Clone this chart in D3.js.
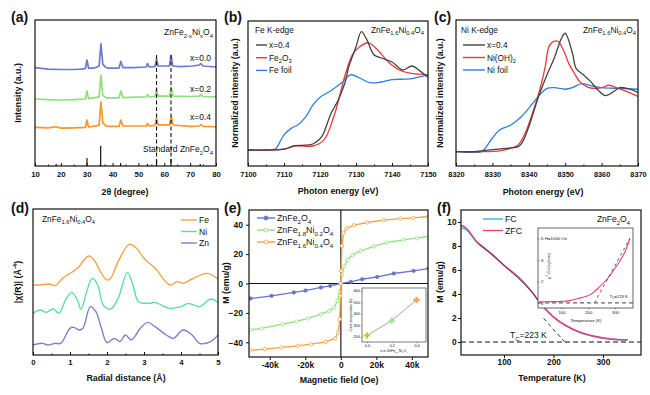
<!DOCTYPE html>
<html>
<head>
<meta charset="utf-8">
<script src="https://cdn.jsdelivr.net/npm/d3@7"></script>
<style>
  body { margin: 0; background: #fff; }
  text { font-family: "Liberation Sans", Arial, sans-serif; fill: #111; }
</style>
</head>
<body>
<svg id="fig" width="650" height="395"></svg>
<script>
// ---- (a) XRD patterns: [2theta, intensity above own baseline] ----
const xrdLabels = ['x=0.0', 'x=0.2', 'x=0.4'];
const xrdOffsets = [67.1, 45.9, 26.4];
const xrd00 = [[10,0.3],[15,-0.7],[20,-1],[25,-1],[28,-0.7],[29.5,-0.3],[30.1,5.5],[30.7,0],[33,0],[34.8,1.4],[35.5,16.8],[36.2,2.7],[37.2,0.7],[38,0],[42.5,0],[43.2,4.5],[44,0.3],[48,0.3],[53,0.7],[53.5,3.1],[54.2,0.7],[56.4,1],[57.0,6.2],[57.6,1.4],[62.0,1.4],[62.6,8.6],[63.3,1.4],[66,1],[71,1.4],[73.5,2.1],[74.1,3.1],[75,1.4],[80,0.7]];
const xrd02 = [[10,0],[15,-0.5],[20,-0.7],[25,-0.5],[29.5,0],[30.1,5.5],[30.7,0.3],[34.8,1.4],[35.5,16.4],[36.2,2.7],[37.5,0.7],[42.5,0.7],[43.2,5.5],[44,1],[53,1.4],[53.5,3.1],[54.2,1.4],[56.4,1.7],[57.0,6.8],[57.6,2],[62.0,2],[62.7,8.2],[63.4,2],[70,1.7],[73.5,2],[74.1,3.1],[75,1.7],[80,1.4]];
const xrd04 = [[10,0],[15,-0.3],[18.2,0.5],[20,-0.5],[25,-0.3],[29.5,0],[30.1,5.1],[30.7,0.3],[34.8,1.4],[35.5,17.5],[36.2,3.4],[37.2,1.4],[38,0.7],[42.5,0.7],[43.2,5.1],[44,1],[53,1],[53.5,2.7],[54.2,1],[56.4,1.4],[57.0,6.5],[57.6,1.7],[62.0,1.7],[62.7,7.5],[63.4,1.7],[70,0.7],[73.5,1],[74.1,2],[75,0.7],[80,0.5]];
const stdPeaks = [[18.2,1.4],[30.1,5.5],[35.4,13.7],[37.1,1],[43.1,2],[53.5,1.4],[57.0,4.1],[62.6,4.8],[73.9,1.4]];
const xrdGuides = [57.0, 62.6];

// ---- (b) Fe K-edge XANES ----
const feX04 = [[7100,0],[7105,0],[7110,0.01],[7113,0.055],[7116,0.06],[7118,0.075],[7120,0.14],[7121,0.21],[7123,0.45],[7125,0.62],[7127,0.85],[7128,1.04],[7130,1.29],[7131.5,1.48],[7133,1.38],[7135,1.19],[7137,1.15],[7140,1.1],[7143,1.0],[7145.5,1.05],[7148,0.98],[7150,0.91]];
const feFe2O3 = [[7100,0],[7110,0.01],[7113,0.05],[7118,0.05],[7121,0.12],[7124,0.44],[7127,0.94],[7129,1.19],[7131,1.29],[7133.5,1.34],[7136,1.25],[7139,1.1],[7142,1.0],[7145,0.96],[7150,0.94]];
const feFoil = [[7100,0],[7107.5,0.01],[7108,0.03],[7110,0.19],[7112,0.27],[7114,0.32],[7116,0.41],[7118,0.56],[7120,0.66],[7123,0.74],[7126,0.84],[7128.5,0.94],[7131,0.9],[7134,0.84],[7137,0.85],[7140,0.88],[7145,0.89],[7150,0.94]];

// ---- (c) Ni K-edge XANES ----
const niX04 = [[8320,0],[8325,0],[8330,0.025],[8335,0.046],[8337,0.06],[8338,0.1],[8339,0.19],[8340,0.31],[8343,0.73],[8345,0.96],[8347,1.17],[8349,1.42],[8350,1.48],[8352,1.23],[8353,1.04],[8355,0.96],[8357,0.875],[8359,0.77],[8361,0.7],[8363,0.74],[8365,0.8],[8367,0.79],[8370,0.74]];
const niOH2 = [[8320,0],[8328,0],[8332,0.01],[8335,0.04],[8337,0.08],[8339,0.23],[8341,0.48],[8343,0.77],[8344.5,1.06],[8345.5,1.31],[8346.5,1.37],[8348,1.38],[8349.5,1.27],[8351,1.1],[8352.5,0.98],[8354,0.875],[8356,0.81],[8358,0.79],[8360,0.8],[8362,0.83],[8364,0.8],[8367,0.75],[8370,0.69]];
const niFoil = [[8320,0],[8327,0],[8328,0.04],[8330,0.17],[8332,0.27],[8335,0.33],[8338,0.44],[8341,0.6],[8343,0.71],[8345,0.79],[8347,0.8],[8350,0.78],[8352,0.8],[8354.5,0.85],[8357,0.825],[8360,0.8],[8365,0.79],[8370,0.78]];

// ---- (d) EXAFS |chi(R)| ----
const exafsFe = [[0,2.1],[0.2,2.1],[0.45,2.13],[0.6,2.08],[0.8,2.3],[1.0,2.45],[1.2,2.6],[1.5,2.97],[1.65,2.85],[1.85,2.45],[2.0,2.25],[2.1,2.3],[2.3,2.8],[2.6,3.32],[2.8,3.2],[3.0,2.9],[3.3,2.6],[3.7,2.1],[3.9,2.2],[4.05,2.15],[4.3,2.28],[4.7,2.45],[5.0,2.28]];
const exafsNi = [[0,1.25],[0.2,1.35],[0.35,1.28],[0.55,1.38],[0.7,1.25],[0.9,1.7],[1.05,1.88],[1.2,1.65],[1.3,1.37],[1.45,1.9],[1.6,2.3],[1.75,2.1],[1.9,1.5],[2.1,1.38],[2.3,1.7],[2.55,2.48],[2.7,2.1],[2.85,1.6],[3.1,1.55],[3.3,1.57],[3.7,1.4],[4.0,1.45],[4.2,1.55],[4.5,1.45],[4.8,1.68],[5.0,1.58]];
const exafsZn = [[0,0.3],[0.25,0.35],[0.4,0.3],[0.6,0.35],[0.75,0.35],[1.0,0.8],[1.1,0.83],[1.25,0.75],[1.35,0.8],[1.55,1.45],[1.7,1.3],[1.85,0.8],[2.0,0.37],[2.2,0.5],[2.35,0.4],[2.5,0.6],[2.65,0.45],[2.75,0.55],[2.9,0.8],[3.1,0.98],[3.3,0.85],[3.6,0.6],[3.8,0.5],[4.05,0.75],[4.3,0.6],[4.5,0.35],[4.8,0.4],[5.0,0.6]];

// ---- (e) M-H loops ----
const mhX0 = [[-50800,-10.2],[-39000,-8.4],[-26400,-6.1],[-19900,-4.8],[-11200,-2.7],[-6000,-1.6],[0,0],[5600,1.1],[12000,2.9],[20500,4.5],[29800,6.8],[41000,8.6],[49300,10.2]];
const mhX2 = [[-50800,-31.5],[-44700,-30.6],[-32600,-27.7],[-25000,-25.8],[-18600,-23.8],[-11200,-20.9],[-6500,-18.6],[-3700,-16.3],[-1900,-11.8],[-600,-6],[0,0],[600,6],[1900,11.6],[3700,16],[6500,19.3],[11200,22.2],[18600,25.2],[26000,27.9],[35300,29.7],[42800,30.8],[49300,32]];
const mhX4 = [[-50800,-45.4],[-42800,-44.7],[-33500,-43.5],[-24200,-42.4],[-16700,-41.3],[-8400,-39.7],[-3300,-37.4],[-1500,-33.3],[-600,-24.3],[-200,-8.4],[0,0],[200,8.6],[600,25.6],[1500,34.2],[3300,37.6],[7400,39.7],[14900,41.5],[24200,43.1],[33500,44.2],[40900,44.7],[49300,45.6]];
const curieX = [0.0, 0.2, 0.4];
const curieT = [210, 340, 520];

// ---- (f) M-T curves ----
const mtZFC = [[13,9.7],[20,9.6],[28,9.3],[45,8.35],[60,7.85],[75,7.35],[100,6.4],[132,5.3],[156,4.2],[176,3.1],[200,2.1],[224,1.4],[251,0.86],[278,0.53],[305,0.32],[330,0.22],[350,0.19]];
const mtFC = [[13,9.5],[20,9.45],[28,9.2],[45,8.3],[60,7.8],[75,7.33],[100,6.38],[132,5.28],[156,4.18],[176,3.08],[200,2.08],[224,1.38],[251,0.84],[278,0.51],[305,0.3],[330,0.2],[350,0.17]];
const mtFit = [[50,8.15],[100,6.38],[150,4.45],[180,2.95]];
const tcLine = [[180,1.98],[223,0]];
const invChi = [[14,0.1],[60,0.12],[100,0.15],[130,0.22],[162,0.41],[190,0.6],[211,0.82],[242,1.5],[273,2.3],[304,3.4],[335,4.65],[355,6.0]];
const invChiFit = [[223,0],[355,6.0]];

const svg = d3.select('#fig');
const defs = svg.append('defs');

// text with _{sub} and ^{sup} parts
function rich(sel, str, size) {
  const parts = str.split(/([_^]\{[^}]*\})/).filter(s => s);
  let shift = 0;
  parts.forEach(p => {
    let t = p, s = 0;
    if (p.startsWith('_{')) { t = p.slice(2, -1); s = size * 0.3; }
    else if (p.startsWith('^{')) { t = p.slice(2, -1); s = -size * 0.4; }
    sel.append('tspan').attr('dy', s - shift).attr('font-size', s ? size * 0.7 : size).text(t);
    shift = s;
  });
  return sel;
}

function label(g, x, y, str, size, opts = {}) {
  const t = g.append('text').attr('x', x).attr('y', y)
    .attr('font-size', size)
    .attr('font-weight', opts.bold ? 'bold' : 'normal')
    .attr('text-anchor', opts.anchor || 'start');
  if (opts.rotate) t.attr('transform', `rotate(-90,${x},${y})`);
  return rich(t, str, size);
}

function makePanel(name, o) {
  const x = d3.scaleLinear().domain(o.xd).range([o.l, o.r]);
  const y = d3.scaleLinear().domain(o.yd).range([o.b, o.t]);
  const g = svg.append('g');
  defs.append('clipPath').attr('id', 'clip-' + name)
    .append('rect').attr('x', o.l).attr('y', o.t).attr('width', o.r - o.l).attr('height', o.b - o.t);
  const plot = g.append('g').attr('clip-path', `url(#clip-${name})`);
  return { g, plot, x, y, o };
}

function axes(p, c) {
  const { g, x, y, o } = p;
  const ts = c.inward ? -3 : 3;
  const xa = d3.axisBottom(x).tickValues(c.xt).tickSize(ts).tickPadding(c.xpad)
    .tickFormat(c.xf || d3.format('d'));
  g.append('g').attr('class', 'ax').attr('transform', `translate(0,${o.b})`).call(xa);
  if (c.xminor) {
    g.append('g').attr('transform', `translate(0,${o.b})`)
      .call(d3.axisBottom(x).tickValues(c.xminor).tickSize(ts / 2).tickFormat(''));
  }
  if (c.yt) {
    g.append('g').attr('class', 'ax').attr('transform', `translate(${o.l},0)`)
      .call(d3.axisLeft(y).tickValues(c.yt).tickSize(ts).tickPadding(c.ypad).tickFormat(d3.format('d')));
  }
  g.selectAll('.domain').remove();
  g.selectAll('.tick line').attr('stroke', '#111').attr('stroke-width', 1);
  g.selectAll('.ax text').attr('font-size', c.fs).attr('font-weight', 'bold')
    .attr('font-family', '"Liberation Sans", Arial, sans-serif').attr('fill', '#111');
  g.append('rect').attr('x', o.l).attr('y', o.t).attr('width', o.r - o.l).attr('height', o.b - o.t)
    .attr('fill', 'none').attr('stroke', '#111').attr('stroke-width', 1.2);
}

function curve(p, data, color, w = 1.3, smooth = true) {
  const line = d3.line().x(d => p.x(d[0])).y(d => p.y(d[1]));
  if (smooth) line.curve(d3.curveCatmullRom.alpha(0.5));
  return p.plot.append('path').datum(data).attr('d', line)
    .attr('fill', 'none').attr('stroke', color).attr('stroke-width', w).attr('stroke-linejoin', 'round');
}

function legend(g, items, x0, x1, y0, dyStep, size) {
  items.forEach((it, i) => {
    const yy = y0 + i * dyStep;
    g.append('line').attr('x1', x0).attr('x2', x1).attr('y1', yy - 3).attr('y2', yy - 3)
      .attr('stroke', it.color).attr('stroke-width', 1.4);
    if (it.marker) {
      g.append('circle').attr('cx', (x0 + x1) / 2).attr('cy', yy - 3).attr('r', 2)
        .attr('fill', it.fill).attr('stroke', it.color).attr('stroke-width', 0.8);
    }
    label(g, x1 + 2, yy, it.text, size);
  });
}

const fs = 8.8; // axis title size

// ================= (a) =================
{
  const p = makePanel('a', { xd: [10, 80], yd: [0, 100], l: 35, r: 216, t: 20, b: 166 });
  const colors = ['#6f78d2', '#8fe07c', '#f7962b'];
  [xrd00, xrd02, xrd04].forEach((s, i) => {
    curve(p, s.map(d => [d[0], d[1] + xrdOffsets[i]]), colors[i], 1.7, false);
    label(p.g, 211, p.y(xrdOffsets[i] + 5), xrdLabels[i], 8.5, { anchor: 'end' });
  });
  p.plot.selectAll('.stick').data(stdPeaks).join('line')
    .attr('x1', d => p.x(d[0])).attr('x2', d => p.x(d[0]))
    .attr('y1', p.y(0)).attr('y2', d => p.y(d[1]))
    .attr('stroke', '#111').attr('stroke-width', 1.2);
  p.plot.selectAll('.guide').data(xrdGuides).join('line')
    .attr('x1', d => p.x(d)).attr('x2', d => p.x(d))
    .attr('y1', p.y(76)).attr('y2', p.y(0))
    .attr('stroke', '#111').attr('stroke-width', 1.1).attr('stroke-dasharray', '4,2.5');
  axes(p, { inward: true, xt: d3.range(10, 81, 10), xminor: d3.range(15, 80, 10), xpad: 5, fs: 7.8 });
  label(p.g, 213, 35, 'ZnFe_{2-x}Ni_{x}O_{4}', 8.5, { anchor: 'end' });
  label(p.g, 213, 152, 'Standard ZnFe_{2}O_{4}', 8.5, { anchor: 'end' });
  label(p.g, 125, 195, '2θ (degree)', fs, { bold: true, anchor: 'middle' });
  label(p.g, 21, 93, 'Intensity (a.u.)', fs, { bold: true, anchor: 'middle', rotate: true });
  label(svg, 11, 22, '(a)', 14, { bold: true });
}

// ================= (b) =================
{
  const p = makePanel('b', { xd: [7100, 7150], yd: [-0.2, 1.6125], l: 248, r: 428, t: 21, b: 166 });
  curve(p, feFoil, '#2f7fe0');
  curve(p, feFe2O3, '#ea3a3d');
  curve(p, feX04, '#444');
  axes(p, { inward: true, xt: d3.range(7100, 7151, 10), xminor: d3.range(7105, 7150, 10), xpad: 6, fs: 7.4 });
  label(p.g, 255, 33, 'Fe K-edge', 8.3);
  label(p.g, 424, 33, 'ZnFe_{1.6}Ni_{0.4}O_{4}', 8.3, { anchor: 'end' });
  legend(p.g, [
    { text: 'x=0.4', color: '#444' },
    { text: 'Fe_{2}O_{3}', color: '#ea3a3d' },
    { text: 'Fe foil', color: '#2f7fe0' }
  ], 256, 267, 48, 12.7, 8.3);
  label(p.g, 338, 194, 'Photon energy (eV)', fs, { bold: true, anchor: 'middle' });
  label(p.g, 238, 93, 'Normalized intensity (a.u.)', fs, { bold: true, anchor: 'middle', rotate: true });
  label(svg, 224, 22, '(b)', 14, { bold: true });
}

// ================= (c) =================
{
  const p = makePanel('c', { xd: [8320, 8370], yd: [-0.18, 1.646], l: 456, r: 638, t: 20, b: 166 });
  curve(p, niFoil, '#2f7fe0');
  curve(p, niOH2, '#ea3a3d');
  curve(p, niX04, '#444');
  axes(p, { inward: true, xt: d3.range(8320, 8371, 10), xminor: d3.range(8325, 8370, 10), xpad: 6, fs: 7.4 });
  label(p.g, 461, 33, 'Ni K-edge', 8.3);
  label(p.g, 636, 33, 'ZnFe_{1.6}Ni_{0.4}O_{4}', 8.3, { anchor: 'end' });
  legend(p.g, [
    { text: 'x=0.4', color: '#444' },
    { text: 'Ni(OH)_{2}', color: '#ea3a3d' },
    { text: 'Ni foil', color: '#2f7fe0' }
  ], 463, 485, 48, 12.5, 8.3);
  label(p.g, 543, 195, 'Photon energy (eV)', fs, { bold: true, anchor: 'middle' });
  label(p.g, 443, 93, 'Normalized intensity (a.u.)', fs, { bold: true, anchor: 'middle', rotate: true });
  label(svg, 434, 22, '(c)', 14, { bold: true });
}

// ================= (d) =================
{
  const p = makePanel('d', { xd: [0, 5], yd: [0, 4.38], l: 33, r: 218, t: 209, b: 355 });
  curve(p, exafsFe, '#f5a447', 1.4);
  curve(p, exafsNi, '#5fdca6', 1.4);
  curve(p, exafsZn, '#7b82c8', 1.4);
  axes(p, { inward: true, xt: d3.range(0, 6, 1), xminor: [0.5, 1.5, 2.5, 3.5, 4.5], xpad: 4, fs: 7.8 });
  label(p.g, 42, 222, 'ZnFe_{1.6}Ni_{0.4}O_{4}', 8.3);
  legend(p.g, [
    { text: 'Fe', color: '#f5a447' },
    { text: 'Ni', color: '#5fdca6' },
    { text: 'Zn', color: '#7b82c8' }
  ], 181, 197, 223, 11.5, 8.5);
  label(p.g, 126, 381, 'Radial distance (Å)', fs, { bold: true, anchor: 'middle' });
  label(p.g, 21, 282, '|χ(R)| (Å^{-4})', fs, { bold: true, anchor: 'middle', rotate: true });
  label(svg, 11, 213, '(d)', 14, { bold: true });
}

// ================= (e) =================
{
  const p = makePanel('e', { xd: [-51700, 49100], yd: [-50, 50], l: 249, r: 428, t: 210, b: 357 });
  p.plot.append('line').attr('x1', p.x(0)).attr('x2', p.x(0)).attr('y1', p.o.t).attr('y2', p.o.b)
    .attr('stroke', '#555').attr('stroke-width', 1.6);
  p.plot.append('line').attr('x1', p.o.l).attr('x2', p.o.r).attr('y1', p.y(0)).attr('y2', p.y(0))
    .attr('stroke', '#111').attr('stroke-width', 1);
  const series = [
    { data: mhX0, color: '#6a73cc', fill: '#6a73cc', text: 'ZnFe_{2}O_{4}' },
    { data: mhX2, color: '#8ee37f', fill: '#fff', text: 'ZnFe_{1.8}Ni_{0.2}O_{4}' },
    { data: mhX4, color: '#f7a040', fill: '#fff', text: 'ZnFe_{1.6}Ni_{0.4}O_{4}' }
  ];
  series.forEach(s => {
    curve(p, s.data, s.color, 1.3, false);
    p.plot.append('g').selectAll('circle').data(s.data).join('circle')
      .attr('cx', d => p.x(d[0])).attr('cy', d => p.y(d[1])).attr('r', 1.7)
      .attr('fill', s.fill).attr('stroke', s.color).attr('stroke-width', 0.8);
  });
  axes(p, {
    inward: false, xt: [-40000, -20000, 0, 20000, 40000], xf: d => d === 0 ? '0' : (d / 1000) + 'k',
    yt: [-40, -20, 0, 20, 40], xpad: 2, ypad: 3, fs: 8.5
  });
  legend(p.g, series.map(s => ({ text: s.text, color: s.color, fill: s.fill, marker: true })),
    257, 275, 221, 12, 8.8);
  label(p.g, 339, 383, 'Magnetic field (Oe)', fs, { bold: true, anchor: 'middle' });
  label(p.g, 229, 283, 'M (emu/g)', fs, { bold: true, anchor: 'middle', rotate: true });
  label(svg, 224, 213, '(e)', 14, { bold: true });

  // inset: Curie temperature vs x
  const ix = d3.scaleLinear().domain([-0.04, 0.476]).range([362, 426]);
  const iy = d3.scaleLinear().domain([154, 623]).range([342, 288]);
  const ig = p.g.append('g');
  ig.append('rect').attr('x', 362).attr('y', 288).attr('width', 64).attr('height', 54)
    .attr('fill', '#fff').attr('stroke', '#222').attr('stroke-width', 0.6);
  const pts = curieX.map((v, i) => [v, curieT[i]]);
  ig.append('path').datum(pts).attr('d', d3.line().x(d => ix(d[0])).y(d => iy(d[1])))
    .attr('fill', 'none').attr('stroke', '#666').attr('stroke-width', 0.6);
  const starColors = ['#c8cc10', '#a2e48e', '#f6a050'];
  ig.selectAll('.star').data(pts).join('path')
    .attr('transform', d => `translate(${ix(d[0])},${iy(d[1])})`)
    .attr('d', d3.symbol().type(d3.symbolCross).size(22))
    .attr('fill', (d, i) => starColors[i]);
  ig.append('g').attr('transform', 'translate(0,342)')
    .call(d3.axisBottom(ix).tickValues(curieX).tickSize(1.2).tickPadding(1).tickFormat(d3.format('.1f')));
  ig.append('g').attr('transform', 'translate(362,0)')
    .call(d3.axisLeft(iy).tickValues([200, 300, 400, 500, 600]).tickSize(1.2).tickPadding(1).tickFormat(d3.format('d')));
  ig.selectAll('.domain').remove();
  ig.selectAll('.tick text').attr('font-size', 3.8).attr('fill', '#333');
  ig.selectAll('.tick line').attr('stroke', '#333').attr('stroke-width', 0.5);
  label(ig, 394, 352, 'x in ZnFe_{2-x}Ni_{x}O_{4}', 3.6, { anchor: 'middle' });
  label(ig, 352, 315, 'Curie temperature (K)', 3.4, { anchor: 'middle', rotate: true });
}

// ================= (f) =================
{
  const p = makePanel('f', { xd: [13, 377], yd: [-1.08, 11], l: 461, r: 641, t: 210, b: 355 });
  p.plot.append('line').attr('x1', p.o.l).attr('x2', p.o.r).attr('y1', p.y(0)).attr('y2', p.y(0))
    .attr('stroke', '#111').attr('stroke-width', 1.1).attr('stroke-dasharray', '5,3');
  curve(p, mtFC, '#3ab0e8', 1.5);
  curve(p, mtZFC, '#e8407a', 1.5);
  curve(p, mtFit, '#222', 0.7).attr('stroke-opacity', 0.8);
  curve(p, tcLine, '#222', 0.9, false).attr('stroke-dasharray', '4,3');
  axes(p, { inward: false, xt: [100, 200, 300], yt: d3.range(0, 11, 2), xpad: 1.5, ypad: 1.5, fs: 8.3 });
  legend(p.g, [
    { text: 'FC', color: '#3ab0e8' },
    { text: 'ZFC', color: '#e8407a' }
  ], 483, 503, 222, 11.5, 8.8);
  label(p.g, 630, 222, 'ZnFe_{2}O_{4}', 8.5, { anchor: 'end' });
  label(p.g, 510, 338, 'T_{C}=223 K', 8.5);
  label(p.g, 552, 381, 'Temperature (K)', fs, { bold: true, anchor: 'middle' });
  label(p.g, 443, 282, 'M (emu/g)', fs, { bold: true, anchor: 'middle', rotate: true });
  label(svg, 437, 213, '(f)', 14, { bold: true });

  // inset: inverse susceptibility
  const ix = d3.scaleLinear().domain([12, 367]).range([538, 633]);
  const iy = d3.scaleLinear().domain([-0.47, 6.98]).range([308, 228]);
  const ig = p.g.append('g');
  ig.append('rect').attr('x', 538).attr('y', 228).attr('width', 95).attr('height', 80)
    .attr('fill', '#fff').attr('stroke', '#222').attr('stroke-width', 0.7);
  ig.append('line').attr('x1', 538).attr('x2', 633).attr('y1', iy(0)).attr('y2', iy(0))
    .attr('stroke', '#666').attr('stroke-width', 1.3).attr('stroke-dasharray', '4,3');
  const il = d3.line().x(d => ix(d[0])).y(d => iy(d[1]));
  ig.append('path').datum(invChi).attr('d', il.curve(d3.curveCatmullRom.alpha(0.5)))
    .attr('fill', 'none').attr('stroke', '#e8407a').attr('stroke-width', 1.1);
  ig.append('path').datum(invChiFit).attr('d', d3.line().x(d => ix(d[0])).y(d => iy(d[1])))
    .attr('fill', 'none').attr('stroke', '#222').attr('stroke-width', 0.7).attr('stroke-dasharray', '3,3');
  ig.append('g').attr('transform', 'translate(0,308)')
    .call(d3.axisBottom(ix).tickValues([100, 200, 300]).tickSize(1.5).tickPadding(1).tickFormat(d3.format('d')));
  ig.append('g').attr('transform', 'translate(538,0)')
    .call(d3.axisRight(iy).tickValues([0, 2, 4, 6]).tickSize(1.5).tickPadding(1.5).tickFormat(d3.format('d')));
  ig.selectAll('.domain').remove();
  ig.selectAll('.tick text').attr('font-size', 4.3).attr('fill', '#333');
  ig.selectAll('.tick line').attr('stroke', '#333').attr('stroke-width', 0.5);
  label(ig, 545, 240, 'H=1000 Oe', 4.3);
  label(ig, 628, 298, 'T_{C}=223 K', 4.3, { anchor: 'end' });
  label(ig, 586, 322, 'Temperature (K)', 4.3, { anchor: 'middle' });
  label(ig, 550, 266, 'χ^{-1} (Oe kg/emu)', 3.8, { anchor: 'middle', rotate: true });
}
</script>
</body>
</html>
